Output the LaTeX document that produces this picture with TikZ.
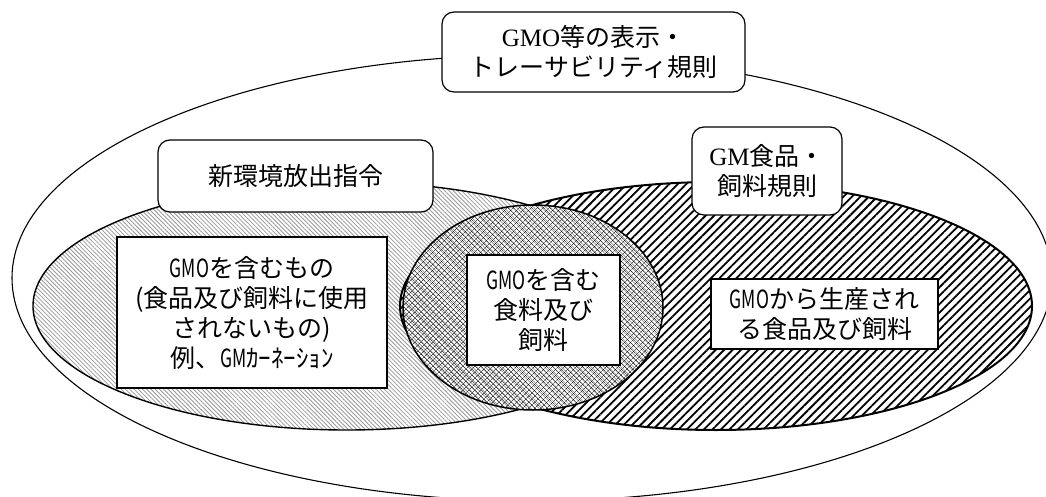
\documentclass[tikz,border=0pt]{standalone}
\usepackage{fontspec}
\setmainfont{Noto Sans CJK JP}
\newfontfamily\latserif{Liberation Serif}
\usetikzlibrary{patterns.meta}
\newcommand\lbl{\fontsize{25}{30}\selectfont}
\newcommand\hwtxt[1]{\scalebox{0.7}[1]{#1}}
\begin{document}
\begin{tikzpicture}[x=1pt,y=-1pt,
  rbox/.style={draw, line width=1.2pt, rounded corners=12pt, fill=white, align=center, inner sep=0pt, font=\lbl},
  rect/.style={draw, line width=2pt, fill=white, align=center, inner sep=0pt, font=\lbl},
  lightpat/.style={pattern={Lines[angle=-45,distance=3pt,line width=0.8pt]}, pattern color=gray!80},
  darkpat/.style={pattern={Lines[angle=45,distance=6pt,line width=1.8pt]}, pattern color=black},
  crossA/.style={pattern={Lines[angle=45,distance=4pt,line width=0.45pt]}, pattern color=black},
  crossB/.style={pattern={Lines[angle=-45,distance=4pt,line width=0.45pt]}, pattern color=black}]
\useasboundingbox (0,0) rectangle (1046,497);
\begin{scope}
\clip (0,0) rectangle (1046,497);
% outer ellipse
\coordinate (outerc) at (532,278);
\draw[line width=1.1pt, fill=white] (outerc) ellipse [x radius=520, y radius=223];
% left ellipse
\coordinate (leftc) at (346.5,306);
\fill[white] (leftc) ellipse [x radius=313.5, y radius=124];
\fill[lightpat] (leftc) ellipse [x radius=313.5, y radius=124];
\draw[line width=1.4pt] (leftc) ellipse [x radius=313.5, y radius=124];
% right ellipse
\coordinate (rightc) at (716,306);
\fill[white] (rightc) ellipse [x radius=316, y radius=124];
\fill[darkpat] (rightc) ellipse [x radius=316, y radius=124];
\draw[line width=2pt] (rightc) ellipse [x radius=316, y radius=124];
% middle ellipse
\coordinate (midc) at (533,307.5);
\fill[white] (midc) ellipse [x radius=130, y radius=102.5];
\fill[lightpat] (midc) ellipse [x radius=130, y radius=102.5];
\fill[crossA] (midc) ellipse [x radius=130, y radius=102.5];
\fill[crossB] (midc) ellipse [x radius=130, y radius=102.5];
\draw[line width=1.5pt] (midc) ellipse [x radius=130, y radius=102.5];
\end{scope}
% labels
\node[rbox, minimum width=303pt, minimum height=80pt] (title) at (593.5,52)
  {{\latserif GMO}等の表示・\\トレーサビリティ規則};
\node[rbox, minimum width=275pt, minimum height=72pt] (dir) at (295.5,176) {新環境放出指令};
\node[rbox, minimum width=150pt, minimum height=88pt] (reg) at (767,171)
  {{\latserif GM}食品・\\飼料規則};
\node[rect, minimum width=270pt, minimum height=151pt] (nonfood) at (252,312.5)
  {\hwtxt{GMO}を含むもの\\(食品及び飼料に使用\\されないもの)\\例、\hwtxt{GM}ｶｰﾈｰｼｮﾝ};
\node[rect, minimum width=153pt, minimum height=110pt] (both) at (543.5,310)
  {\hwtxt{GMO}を含む\\食料及び\\飼料};
\node[rect, minimum width=227pt, minimum height=70pt] (derived) at (824.5,314)
  {\hwtxt{GMO}から生産され\\る食品及び飼料};
\end{tikzpicture}
\end{document}
